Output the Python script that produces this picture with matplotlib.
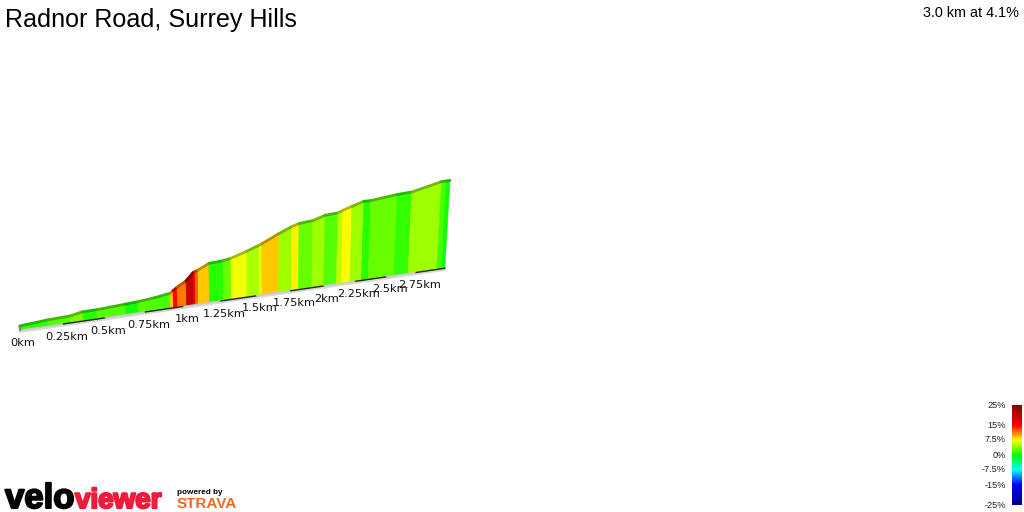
import numpy as np
import matplotlib
matplotlib.use('Agg')
import matplotlib.pyplot as plt
from matplotlib.colors import LinearSegmentedColormap, to_rgb
import matplotlib.patheffects as pe

plt.rcParams['font.family'] = ['Liberation Sans', 'DejaVu Sans']

# climb profile
profile_km = [0, .16, .29, .361, .451, .624, .705, .814, .911, .957, 1.017, 1.064, 1.098, 1.171,
              1.267, 1.321, 1.432, 1.517, 1.538, 1.659, 1.753, 1.804, 1.907, 1.997, 2.096, 2.133,
              2.202, 2.294, 2.35, 2.56, 2.68, 2.928, 3.0]
profile_m = [0, 2.4, 3.2, 6.0, 6.1, 7.9, 8.7, 10.8, 13.6, 19.9, 26.5, 35.8, 38.4, 45.1,
             46.2, 48.2, 54.9, 60.8, 62.3, 73.2, 80.8, 83.7, 85.7, 91.1, 92.5, 95.5,
             99.5, 105, 105, 110, 111.4, 122.4, 123]

# coloured bands, one grade per band
band_edges = [0, .16, .29, .367, .451, .624, .705, .814, .911, .93, .957, 1.017, 1.064, 1.077,
              1.098, 1.171, 1.267, 1.321, 1.432, 1.517, 1.538, 1.659, 1.753, 1.804, 1.907, 1.997,
              2.096, 2.133, 2.202, 2.294, 2.35, 2.56, 2.68, 2.928, 2.97, 3.0]
band_grade = [1.5, 2.5, 3.5, 1, 2.5, .5, 2.5, 2, 9, 15, 11.5, 20, 16, 12,
              9, 1, 3, 7, 5, 6.5, 9, 4.5, 8, 3, 4.5, 2.5,
              5.5, 7.5, 4.5, 1, 3, 1.5, 4.5, 2, .5]

km_ticks = [0, .25, .5, .75, 1, 1.25, 1.5, 1.75, 2, 2.25, 2.5, 2.75]
km_labels = ['0km', '0.25km', '0.5km', '0.75km', '1km', '1.25km', '1.5km', '1.75km', '2km',
             '2.25km', '2.5km', '2.75km']

legend_vals = [25, 15, 7.5, 0, -7.5, -15, -25]
legend_labels = ['25%', '15%', '7.5%', '0%', '-7.5%', '-15%', '-25%']

# 3d view of the road
def project(km, elev):
    s = 1 + 0.0856 * km
    bx = 20 + 178 * km / s
    by = 330 - 0.146 * (bx - 20)
    h = 4 + 0.853 * elev / s
    return bx, by, bx + h * (bx - 255) / 3300, by - h

nodes = [(0, '#00008b'), (.2, '#0000ff'), (.35, '#00ffff'), (.5, '#00ff00'),
         (.65, '#ffff00'), (.8, '#ff0000'), (1, '#8b0000')]
grade_cmap = LinearSegmentedColormap.from_list('grade', nodes)

def grade_color(g):
    return grade_cmap((g + 25) / 50)

def darker(c, f=0.72):
    return tuple(v * f for v in to_rgb(c))

fig = plt.figure(figsize=(10.24, 5.12), dpi=100)
ax = fig.add_axes([0, 0, 1, 1])
ax.set_xlim(0, 1024)
ax.set_ylim(512, 0)
ax.axis('off')

# bands
for i, g in enumerate(band_grade):
    lo, hi = band_edges[i], band_edges[i + 1]
    inner = [k for k in profile_km if lo < k < hi]
    kms = np.array([lo] + inner + [hi])
    elev = np.interp(kms, profile_km, profile_m)
    bx, by, tx, ty = project(kms, elev)
    xs = list(tx) + list(bx[::-1])
    ys = list(ty) + list(by[::-1])
    col = grade_color(g)
    ax.fill(xs, ys, color=col, lw=0.4, zorder=2)
    # top surface of the road
    ax.plot(tx, ty, color=darker(col), lw=2.0, solid_capstyle='round', zorder=3)

# kerb below the road, every other quarter km is black
edge_km = km_ticks + [3.0]
for i in range(len(edge_km) - 1):
    kms = np.array([edge_km[i], edge_km[i + 1]])
    bx, by, _, _ = project(kms, np.zeros(2))
    ax.plot(bx, by + 1.5, color='#d8d8d8', lw=2.0, zorder=1)
    ax.plot(bx, by + 0.3, color='#222222' if i % 2 == 1 else '#c8c8c8', lw=1.0, zorder=4)

bx0, by0, tx0, ty0 = project(0.0, 0.0)
ax.plot([bx0, tx0], [by0, ty0], color='#808080', lw=1.5, zorder=4)

for k, lab in zip(km_ticks, km_labels):
    bx, by, _, _ = project(k, 0.0)
    ax.text(bx + 3, by + 13, lab, ha='center', va='center', fontsize=8.2,
            family='DejaVu Sans', color='#111111', zorder=5)

# title
ax.text(5, 20, 'Radnor Road, Surrey Hills', fontsize=18.1, ha='left', va='center', color='black')
ax.text(1019, 13, '3.0 km at 4.1%', fontsize=10.4, ha='right', va='center', color='black')

# legend
grad = np.linspace(25, -25, 100).reshape(-1, 1)
ax.imshow(grad, cmap=grade_cmap, vmin=-25, vmax=25, extent=(1012, 1022, 505, 405),
          aspect='auto', zorder=2)
ax.set_xlim(0, 1024)
ax.set_ylim(512, 0)
for v, lab in zip(legend_vals, legend_labels):
    ax.text(1006, 455 - 2 * v, lab, fontsize=6.6, ha='right', va='center', color='#222222')

# logo
ax.text(5, 508, 'velo', fontsize=25, fontweight='bold', ha='left', va='baseline', color='black',
        path_effects=[pe.withStroke(linewidth=1.4, foreground='black')])
ax.text(75, 508, 'viewer', fontsize=20, fontweight='bold', ha='left', va='baseline', color='#ee1c3c',
        path_effects=[pe.withStroke(linewidth=1.6, foreground='#ee1c3c')])
ax.text(177, 492, 'powered by', fontsize=5.9, fontweight='bold', ha='left', va='center', color='black')
ax.text(177, 504, 'STRAVA', fontsize=11, fontweight='bold', ha='left', va='center', color='#f26a21')

fig.savefig('out.png', dpi=100, facecolor='white')
